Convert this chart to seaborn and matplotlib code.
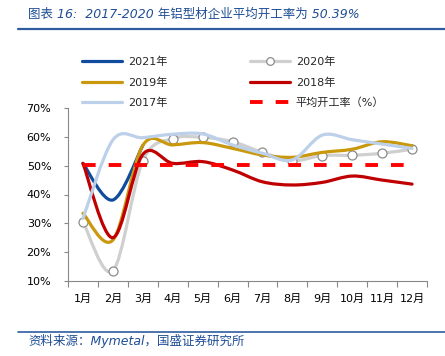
import numpy as np
import pandas as pd
import seaborn as sns
import matplotlib
matplotlib.use("Agg")
import matplotlib.pyplot as plt
from matplotlib.path import Path
from matplotlib.patches import PathPatch
from matplotlib.lines import Line2D
from matplotlib.ticker import FuncFormatter, FixedLocator

# ---------------- data ----------------
months = ["1月", "2月", "3月", "4月", "5月", "6月", "7月", "8月", "9月", "10月", "11月", "12月"]
y2021 = [50.8, 38.1, 57.0]
y2020 = [30.6, 13.5, 51.7, 59.4, 59.8, 58.3, 54.6, 51.7, 53.5, 53.6, 54.3, 55.7]
y2019 = [33.5, 24.2, 57.0, 57.2, 58.0, 56.0, 53.7, 52.9, 54.6, 55.7, 58.3, 56.9]
y2018 = [50.8, 25.0, 53.9, 50.8, 51.4, 48.5, 44.4, 43.3, 44.2, 46.4, 45.0, 43.6]
y2017 = [31.7, 58.9, 59.7, 60.9, 61.0, 57.2, 54.3, 52.0, 60.6, 59.0, 57.5, 56.0]
avg_rate = 50.39
yticks = [10, 20, 30, 40, 50, 60, 70]

title_text = "图表 16:  2017-2020 年铝型材企业平均开工率为 50.39%"
source_text = "资料来源：Mymetal，国盛证券研究所"

c2021 = "#0F4C9E"
c2020 = "#CFCFCF"
c2019 = "#C9980C"
c2018 = "#C00000"
c2017 = "#BCD0EA"
cavg = "#FF0000"
navy = "#1F4E96"

sns.set_theme(style="white")
plt.rcParams["font.family"] = ["DejaVu Sans", "Noto Sans CJK SC"]
plt.rcParams["axes.unicode_minus"] = False

fig = plt.figure(figsize=(4.45, 3.56), dpi=100)
ax = fig.add_axes([68 / 445, 1 - 281 / 356, 359 / 445, 173 / 356])


def smooth_path(xs, ys):
    pts = np.column_stack([xs, ys]).astype(float)
    n = len(pts)
    verts = [pts[0]]
    codes = [Path.MOVETO]
    for i in range(n - 1):
        p0 = pts[i - 1] if i > 0 else pts[i]
        p1 = pts[i]
        p2 = pts[i + 1]
        p3 = pts[i + 2] if i + 2 < n else pts[i + 1]
        c1 = p1 + (p2 - p0) / 6.0
        c2 = p2 - (p3 - p1) / 6.0
        verts += [c1, c2, p2]
        codes += [Path.CURVE4] * 3
    return Path(verts, codes)


def draw_smooth(vals, color, lw, z):
    xs = np.arange(len(vals))
    patch = PathPatch(smooth_path(xs, vals), facecolor="none", edgecolor=color,
                      lw=lw, zorder=z, capstyle="round", joinstyle="round")
    ax.add_patch(patch)


lw = 2.3
dash = (3.25, 3.35)
draw_smooth(y2021, c2021, lw, 2)
draw_smooth(y2020, c2020, lw, 3)
draw_smooth(y2019, c2019, lw, 5)
draw_smooth(y2018, c2018, lw, 6)
draw_smooth(y2017, c2017, lw, 7)

df20 = pd.DataFrame({"x": np.arange(12), "y": y2020})
sns.scatterplot(data=df20, x="x", y="y", ax=ax, s=42, color="white",
                edgecolor="#8C8C8C", linewidth=0.9, zorder=4, legend=False)

dfavg = pd.DataFrame({"x": np.arange(12), "y": [avg_rate] * 12})
sns.lineplot(data=dfavg, x="x", y="y", ax=ax, color=cavg, lw=2.8,
             dashes=False, zorder=8, legend=False)
ax.lines[-1].set_dashes(dash)

ax.set_xlim(-0.5, 11.5)
ax.set_ylim(10, 70)
ax.set_yticks(yticks)
ax.yaxis.set_major_formatter(FuncFormatter(lambda v, p: f"{v:.0f}%"))
ax.set_xticks(np.arange(12))
ax.set_xticklabels(months)
ax.xaxis.set_minor_locator(FixedLocator(np.arange(-0.5, 12, 1.0)))
ax.set_xlabel("")
ax.set_ylabel("")
ax.tick_params(axis="x", which="major", length=0, pad=9, labelsize=8, colors="black")
ax.tick_params(axis="x", which="minor", length=4, width=0.8, color="#888888", direction="out", bottom=True)
ax.tick_params(axis="y", which="major", length=3, width=0.8, color="#888888", direction="out",
               pad=9, labelsize=8, left=True, labelcolor="black")
for s in ["top", "right"]:
    ax.spines[s].set_visible(False)
for s in ["left", "bottom"]:
    ax.spines[s].set_color("#888888")
    ax.spines[s].set_linewidth(0.8)
ax.grid(False)

handles = [
    Line2D([], [], color=c2021, lw=lw),
    Line2D([], [], color=c2019, lw=lw),
    Line2D([], [], color=c2017, lw=lw),
    Line2D([], [], color=c2020, lw=lw, marker="o", markersize=5.5,
           markerfacecolor="white", markeredgecolor="#8C8C8C", markeredgewidth=0.9),
    Line2D([], [], color=c2018, lw=lw),
    Line2D([], [], color=cavg, lw=2.8, dashes=dash),
]
labels = ["2021年", "2019年", "2017年", "2020年", "2018年", "平均开工率（%）"]
fig.legend(handles, labels, ncol=2, loc="upper left",
           bbox_to_anchor=(82 / 445, 1 - 57 / 356), frameon=False, fontsize=8,
           handlelength=3.6, handletextpad=0.55, columnspacing=7.4,
           labelspacing=0.9, borderpad=0, borderaxespad=0)

fig.text(28 / 445, 1 - 14 / 356, title_text, fontsize=9, color=navy,
         ha="left", va="center", style="italic",
         family=["DejaVu Sans", "Noto Sans CJK SC"])
fig.add_artist(Line2D([18 / 445, 1], [1 - 29 / 356] * 2, color="#2E5C9E", lw=1.6))
fig.add_artist(Line2D([18 / 445, 1], [1 - 332 / 356] * 2, color="#2E5C9E", lw=1.2))
fig.text(28 / 445, 1 - 341 / 356, source_text, fontsize=9, color=navy,
         ha="left", va="center", style="italic",
         family=["DejaVu Sans", "Noto Sans CJK SC"])

fig.savefig("out.png", dpi=100)
